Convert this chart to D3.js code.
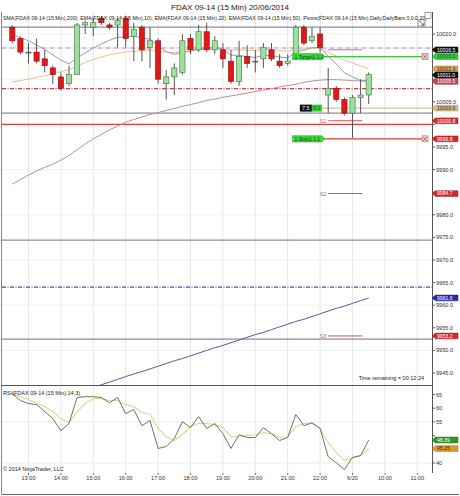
<!DOCTYPE html>
<html>
<head>
<meta charset="utf-8">
<script src="https://cdn.jsdelivr.net/npm/d3@7"></script>
<style>
  body { margin: 0; background: #fff; }
  text { font-family: "Liberation Sans", Arial, sans-serif; }
</style>
</head>
<body>
<svg id="chart" width="460" height="496"></svg>
<script>
// ---- 15-minute bars, FDAX 09-14 (bar index 0 = 12:30 on 19/06) ----
const opens  = [10021.5,10019,10016,10016,10014.5,10012.5,10010.5,10009,10011,10022,10021.5,10023.5,10022,10022,10023.5,10019.5,10021.5,10017,10018.5,10009,10010.5,10011.5,10019,10016.5,10020.5,10016.5,10016.5,10014,10009.5,10015,10014,10014.5,10016.5,10014,10013.5,10015,10021.5,10018.5,10020,10006.5,10008,10005.5,10002.5,10006,10006.5];
const highs  = [10022,10019.5,10018,10019,10016.5,10013,10011.5,10013,10022.5,10023,10023.5,10024,10022.5,10023.5,10024,10022.5,10022,10021.5,10019,10012,10013.5,10020,10020,10022,10022.5,10019.5,10018,10016.5,10018.5,10017.5,10016.5,10018,10018,10015.5,10015.5,10022,10022,10021.5,10021.5,10012.5,10008.5,10006,10006.5,10010,10011.5];
const lows   = [10018,10015.5,10013.5,10013.5,10011.5,10009,10007.5,10008.5,10011,10020,10019.5,10022,10021,10017,10017,10014,10014,10012.5,10009,10005.5,10006.5,10011,10015.5,10016,10016,10015.5,10012.5,10009,10008.5,10012.5,10011.5,10012.5,10014,10012.5,10013,10014.5,10017.5,10018,10016,10002.5,10005,10002,9997,10002.5,10004.5];
const closes = [10018.5,10016,10016,10014,10013,10011,10008,10011,10022,10022.5,10022.5,10022.5,10021.5,10023,10019,10021,10016.5,10018.5,10010,10010.5,10012.5,10018.5,10016.5,10020.5,10016.5,10018.5,10014.5,10009.5,10015,10013.5,10014,10017,10014.5,10013,10014,10021.5,10018,10019.5,10017,10008,10005.5,10002.5,10006,10006.5,10011];

// ---- moving averages ----
const sma200 = [9936.1,9936.6,9937.2,9937.8,9938.4,9939.0,9939.5,9940.1,9940.7,9941.3,9941.9,9942.4,9943.0,9943.6,9944.2,9944.8,9945.3,9945.9,9946.5,9947.1,9947.7,9948.2,9948.8,9949.4,9950.0,9950.6,9951.1,9951.7,9952.3,9952.9,9953.5,9954.0,9954.6,9955.2,9955.8,9956.4,9956.9,9957.5,9958.1,9958.7,9959.3,9959.8,9960.4,9961.0,9961.6];
const ema10  = [10020.0,10019.2,10018.5,10017.6,10016.6,10015.4,10014.2,10013.4,10014.7,10015.8,10016.9,10017.8,10018.6,10019.3,10019.3,10019.6,10019.0,10018.9,10017.3,10016.1,10015.5,10016.0,10016.1,10016.9,10016.8,10017.1,10016.6,10015.3,10015.3,10015.0,10014.8,10015.3,10015.2,10014.9,10014.7,10016.0,10016.4,10017.0,10017.0,10015.1,10013.4,10011.4,10010.5,10009.7,10009.8];
const ema20  = [10009.4,10009.7,10010.0,10010.4,10010.7,10011.2,10011.7,10012.1,10012.9,10013.7,10014.4,10014.9,10015.4,10015.7,10016.0,10016.2,10016.3,10016.5,10016.2,10016.0,10015.9,10016.2,10016.3,10016.5,10016.6,10016.7,10016.6,10016.4,10016.5,10016.4,10016.4,10016.5,10016.5,10016.4,10016.2,10016.6,10016.7,10016.8,10016.8,10016.0,10015.1,10014.2,10013.6,10012.9,10012.3];
const ema50  = [9986.8,9987.8,9988.8,9989.7,9990.5,9991.2,9992.1,9993.1,9994.4,9995.7,9996.8,9997.8,9998.8,9999.6,10000.5,10001.1,10001.6,10002.2,10002.6,10003.1,10003.5,10004.0,10004.4,10004.8,10005.3,10005.6,10006.0,10006.3,10006.6,10006.9,10007.3,10007.6,10007.9,10008.3,10008.6,10008.9,10009.3,10009.6,10009.8,10009.9,10009.9,10009.8,10009.7,10009.6,10009.5];

// ---- RSI(14,3) ----
const rsi    = [65.3,62.8,61.7,61.3,58.8,56.2,51.8,54.4,63.9,64.2,64.2,63.9,62.0,63.9,58.0,59.5,53.6,55.5,45.3,46.0,48.9,55.1,52.9,56.9,52.6,54.4,50.7,45.3,50.4,49.3,49.3,52.9,50.7,48.2,49.3,57.7,53.6,54.7,52.6,42.3,40.1,37.6,42.0,42.7,48.39];
const rsiAvg = [65.3,64.2,63.1,62.0,60.6,58.8,56.2,54.7,58.8,61.7,63.5,63.5,62.8,62.8,61.3,60.6,58.4,57.7,52.6,49.6,48.2,50.4,53.3,54.4,54.4,54.0,52.9,49.6,49.6,50.0,50.4,51.1,50.7,49.3,49.6,53.3,54.4,54.4,52.6,47.4,43.8,40.9,42.0,42.7,45.25];

// ---- daily pivots ----
const pivotNames  = ["PP", "S1", "S2", "S3"];
const pivotValues = [10016.5, 10000.8, 9984.7, 9953.2];

// ---- horizontal levels drawn across the chart ----
const levelValues = [10021.5, 10016.9, 10007.9, 10002.5, 10000.0, 9974.4, 9964.0, 9952.5];
const levelKinds  = ["greySolid", "pinkDash", "redDash", "greySolid", "redSolid", "greySolid", "blueDash", "greySolid"];

// ---- working orders and open position ----
const orderValues = [10015.0, 9996.8];
const orderKinds  = ["target", "stop"];
const positionPrice = 10003.6;
const positionQty = "7.5";
const positionPnl = "5.2";

// ---- axes ----
const priceTicks = [9945, 9950, 9955, 9960, 9965, 9970, 9975, 9980, 9985, 9990, 9995, 10000, 10005, 10010, 10015, 10020];
const rsiTicks = [40, 45, 50, 55, 60, 65];
const timeTickIndex = [2, 6, 10, 14, 18, 22, 26, 30, 34, 38, 42, 46, 50];
const timeTickLabels = ["13:00", "14:00", "15:00", "16:00", "17:00", "18:00", "19:00", "20:00", "21:00", "22:00", "6/20", "10:00", "11:00"];

const svg = d3.select("#chart");
const fmt1 = d3.format(".1f");
const fmt2 = d3.format(".2f");

// panel geometry
const left = 2, right = 432;
const priceTop = 12, priceBottom = 385;
const rsiTop = 385, rsiBottom = 473;

const x = d3.scaleLinear().domain([0, 50]).range([12.3, 417.3]);
const y = d3.scaleLinear().domain([9945, 10020]).range([373, 34]);
const yr = d3.scaleLinear().domain([40, 65]).range([463, 394.5]);

const defs = svg.append("defs");
defs.append("clipPath").attr("id", "clipPrice")
  .append("rect").attr("x", left).attr("y", priceTop).attr("width", right - left).attr("height", priceBottom - priceTop);
defs.append("clipPath").attr("id", "clipRsi")
  .append("rect").attr("x", left).attr("y", rsiTop).attr("width", right - left).attr("height", rsiBottom - rsiTop);

// title
svg.append("text").attr("x", 230).attr("y", 10).attr("text-anchor", "middle")
  .attr("font-size", 8).attr("fill", "#222").text("FDAX 09-14 (15 Min)  20/06/2014");

// vertical grid
const grid = svg.append("g");
grid.selectAll("line.v").data(timeTickIndex).join("line")
  .attr("x1", d => x(d)).attr("x2", d => x(d))
  .attr("y1", priceTop).attr("y2", rsiBottom)
  .attr("stroke", "#e6e6e6").attr("stroke-width", 1);
// horizontal grid (price)
grid.selectAll("line.h").data(priceTicks.filter(d => d % 10 === 0)).join("line")
  .attr("x1", left).attr("x2", right)
  .attr("y1", d => y(d)).attr("y2", d => y(d))
  .attr("stroke", "#efefef");

const pricePanel = svg.append("g").attr("clip-path", "url(#clipPrice)");

// horizontal levels
const levelStyle = {
  greySolid: { stroke: "#8c8ca0", dash: null, w: 1.2 },
  pinkDash:  { stroke: "#b07aa8", dash: "4,1.5,1,1.5", w: 1.2 },
  redDash:   { stroke: "#d04040", dash: "4,1.5,1,1.5", w: 1.2 },
  redSolid:  { stroke: "#e03a3a", dash: null, w: 1.2 },
  blueDash:  { stroke: "#4a4aa8", dash: "4,1.5,1,1.5", w: 1.2 }
};
pricePanel.selectAll("line.level").data(levelValues).join("line")
  .attr("x1", left).attr("x2", right)
  .attr("y1", d => y(d)).attr("y2", d => y(d))
  .attr("stroke", (d, i) => levelStyle[levelKinds[i]].stroke)
  .attr("stroke-width", (d, i) => levelStyle[levelKinds[i]].w)
  .attr("stroke-dasharray", (d, i) => levelStyle[levelKinds[i]].dash);

// position line
pricePanel.append("line").attr("x1", x(35.5)).attr("x2", right)
  .attr("y1", y(positionPrice)).attr("y2", y(positionPrice))
  .attr("stroke", "#c8b48c").attr("stroke-width", 1);

// moving averages
const lineGen = arr => d3.line().x((d, i) => x(i)).y(d => y(d))(arr);
pricePanel.append("path").attr("d", lineGen(sma200)).attr("fill", "none").attr("stroke", "#5858a8").attr("stroke-width", 1);
pricePanel.append("path").attr("d", lineGen(ema50)).attr("fill", "none").attr("stroke", "#c08a98").attr("stroke-width", 1);
pricePanel.append("path").attr("d", lineGen(ema20)).attr("fill", "none").attr("stroke", "#e2c48e").attr("stroke-width", 1);
pricePanel.append("path").attr("d", lineGen(ema10)).attr("fill", "none").attr("stroke", "#9a9ab4").attr("stroke-width", 1);

// pivot stubs
const pivotG = pricePanel.append("g");
pivotG.selectAll("line").data(pivotValues).join("line")
  .attr("x1", x(39)).attr("x2", x(43.2))
  .attr("y1", d => y(d)).attr("y2", d => y(d))
  .attr("stroke", (d, i) => i === 0 ? "#8a8a9a" : "#d05050").attr("stroke-width", 1);
pivotG.selectAll("text").data(pivotValues).join("text")
  .attr("x", x(38.9) - 1).attr("y", d => y(d) + 2)
  .attr("text-anchor", "end").attr("font-size", 5.5).attr("fill", "#a07070")
  .text((d, i) => i === 0 ? "" : pivotNames[i]);

// candles
const candles = pricePanel.append("g");
const bars = d3.range(opens.length);
candles.selectAll("line.wick").data(bars).join("line")
  .attr("x1", i => x(i)).attr("x2", i => x(i))
  .attr("y1", i => y(highs[i])).attr("y2", i => y(lows[i]))
  .attr("stroke", "#555").attr("stroke-width", 1);
candles.selectAll("rect.body").data(bars).join("rect")
  .attr("x", i => x(i) - 2.6).attr("width", 5.2)
  .attr("y", i => y(Math.max(opens[i], closes[i])))
  .attr("height", i => Math.max(1, Math.abs(y(opens[i]) - y(closes[i]))))
  .attr("fill", i => closes[i] > opens[i] ? "#9be39b" : closes[i] < opens[i] ? "#e01818" : "#666")
  .attr("stroke", i => closes[i] >= opens[i] ? "#4a6a4a" : "#8a1010")
  .attr("stroke-width", 0.6);

// order lines
orderValues.forEach((v, k) => {
  const yy = y(v);
  pricePanel.append("line").attr("x1", x(38.2)).attr("x2", 425)
    .attr("y1", yy).attr("y2", yy)
    .attr("stroke", orderKinds[k] === "target" ? "#33cc33" : "#e03a3a").attr("stroke-width", 1.2);
  const g = pricePanel.append("g");
  g.append("path")
    .attr("d", `M${x(34.6)},${yy - 3.2}H${x(38.2)}L${x(38.2) + 3},${yy}L${x(38.2)},${yy + 3.2}H${x(34.6)}Z`)
    .attr("fill", "#33dd33").attr("stroke", "#229922").attr("stroke-width", 0.5);
  g.append("text").attr("x", x(34.6) + 2).attr("y", yy + 2).attr("font-size", 5).attr("fill", "#114411")
    .text(orderKinds[k] === "target" ? "1  Target1  1.1" : "1  Stop1  1.1");
  g.append("rect").attr("x", 422).attr("y", yy - 3).attr("width", 6).attr("height", 6)
    .attr("fill", "#f4d8d8").attr("stroke", "#a06060").attr("stroke-width", 0.6);
  g.append("path").attr("d", `M423,${yy - 2}L427,${yy + 2}M427,${yy - 2}L423,${yy + 2}`)
    .attr("stroke", "#a03030").attr("stroke-width", 0.7);
});

// position box
{
  const yy = y(positionPrice);
  const bx = x(35.5);
  pricePanel.append("rect").attr("x", bx).attr("y", yy - 3.5).attr("width", 12).attr("height", 7).attr("fill", "#111");
  pricePanel.append("text").attr("x", bx + 6).attr("y", yy + 2).attr("text-anchor", "middle")
    .attr("font-size", 5.5).attr("fill", "#fff").text(positionQty);
  pricePanel.append("rect").attr("x", bx + 12).attr("y", yy - 3.5).attr("width", 10).attr("height", 7).attr("fill", "#33cc33");
  pricePanel.append("text").attr("x", bx + 17).attr("y", yy + 2).attr("text-anchor", "middle")
    .attr("font-size", 5.5).attr("fill", "#063").text(positionPnl);
}

// legend of indicators
svg.append("text").attr("x", 3).attr("y", 20).attr("font-size", 5.2).attr("fill", "#222")
  .attr("textLength", 424).attr("lengthAdjust", "spacingAndGlyphs")
  .text("SMA(FDAX 09-14 (15 Min),200), EMA(FDAX 09-14 (15 Min),10), EMA(FDAX 09-14 (15 Min),20), EMA(FDAX 09-14 (15 Min),50), Pivots(FDAX 09-14 (15 Min),Daily,DailyBars,0,0,0,20)");

svg.append("text").attr("x", 424).attr("y", 380).attr("text-anchor", "end")
  .attr("font-size", 5.5).attr("fill", "#222").text("Time remaining = 00:12:24");

// RSI panel
const rsiPanel = svg.append("g").attr("clip-path", "url(#clipRsi)");
const rsiLine = arr => d3.line().x((d, i) => x(i)).y(d => yr(d))(arr);
rsiPanel.selectAll("line.rg").data([55, 40]).join("line")
  .attr("x1", left).attr("x2", right).attr("y1", d => yr(d)).attr("y2", d => yr(d)).attr("stroke", "#ececec");
rsiPanel.append("path").attr("d", rsiLine(rsiAvg)).attr("fill", "none").attr("stroke", "#e3d48e").attr("stroke-width", 1.1);
rsiPanel.append("path").attr("d", rsiLine(rsi)).attr("fill", "none").attr("stroke", "#5f7a62").attr("stroke-width", 1);
svg.append("text").attr("x", 3).attr("y", 395).attr("font-size", 5.5).attr("fill", "#222")
  .text("RSI(FDAX 09-14 (15 Min),14,3)");
svg.append("text").attr("x", 3).attr("y", 471).attr("font-size", 5.5).attr("fill", "#222")
  .text("© 2014 NinjaTrader, LLC");

// frame and separators
svg.append("line").attr("x1", 1.5).attr("x2", 1.5).attr("y1", priceTop).attr("y2", 494).attr("stroke", "#888");
svg.append("line").attr("x1", right + 0.5).attr("x2", right + 0.5).attr("y1", priceTop).attr("y2", rsiBottom).attr("stroke", "#555");
svg.append("line").attr("x1", 1.5).attr("x2", right).attr("y1", priceBottom + 0.5).attr("y2", priceBottom + 0.5).attr("stroke", "#555").attr("stroke-width", 1.2);
svg.append("line").attr("x1", 1.5).attr("x2", 459).attr("y1", 494.5).attr("y2", 494.5).attr("stroke", "#666");

// value markers on the right axis, stacked so that they never cover each other
const last = closes.length - 1;
const priceMarkers = [
  { v: pivotValues[0], txt: fmt1(pivotValues[0]), fill: "#111", color: "#fff" },
  { v: orderValues[0], txt: fmt1(orderValues[0]), fill: "#33cc33", color: "#063" },
  { v: ema20[last], txt: fmt1(ema20[last]), fill: "#d9a35a", color: "#3a2a10" },
  { v: closes[last], txt: fmt1(closes[last]), fill: "#111", color: "#fff" },
  { v: ema50[last], txt: fmt1(ema50[last]), fill: "#c8405a", color: "#fff" },
  { v: positionPrice, txt: fmt1(positionPrice), fill: "#d2bd93", color: "#3a2a10" },
  { v: pivotValues[1], txt: fmt1(pivotValues[1]), fill: "#d22a2a", color: "#fff" },
  { v: orderValues[1], txt: fmt1(orderValues[1]), fill: "#d22a2a", color: "#fff" },
  { v: pivotValues[2], txt: fmt1(pivotValues[2]), fill: "#d22a2a", color: "#fff" },
  { v: sma200[last], txt: fmt1(sma200[last]), fill: "#2a2ab0", color: "#fff" },
  { v: pivotValues[3], txt: fmt1(pivotValues[3]), fill: "#d22a2a", color: "#fff" }
].map(m => ({ ...m, yy: y(m.v) }));
const rsiMarkers = [
  { v: rsi[last], txt: fmt2(rsi[last]), fill: "#2c9a2c", color: "#fff" },
  { v: rsiAvg[last], txt: fmt2(rsiAvg[last]), fill: "#dd9a2a", color: "#3a2a10" }
].map(m => ({ ...m, yy: yr(m.v) }));

const markerH = 6.2;
function stack(list) {
  list.sort((a, b) => a.yy - b.yy);
  for (let i = 1; i < list.length; i++) {
    if (list[i].yy - list[i - 1].yy < markerH) list[i].yy = list[i - 1].yy + markerH;
  }
  return list;
}
stack(priceMarkers);
stack(rsiMarkers);
const allMarkers = priceMarkers.concat(rsiMarkers);
const covered = yy => allMarkers.some(m => Math.abs(m.yy - yy) < 6);

// price axis
const pAxis = svg.append("g");
pAxis.selectAll("line").data(priceTicks).join("line")
  .attr("x1", right).attr("x2", right + 3).attr("y1", d => y(d)).attr("y2", d => y(d)).attr("stroke", "#555");
pAxis.selectAll("text").data(priceTicks.filter(d => !covered(y(d)))).join("text")
  .attr("x", right + 4).attr("y", d => y(d) + 2).attr("font-size", 5.6).attr("fill", "#333")
  .text(d => fmt1(d));

// RSI axis
const rAxis = svg.append("g");
rAxis.selectAll("line").data(rsiTicks).join("line")
  .attr("x1", right).attr("x2", right + 3).attr("y1", d => yr(d)).attr("y2", d => yr(d)).attr("stroke", "#555");
rAxis.selectAll("text").data(rsiTicks.filter(d => !covered(yr(d)))).join("text")
  .attr("x", right + 4).attr("y", d => yr(d) + 2).attr("font-size", 5.6).attr("fill", "#333")
  .text(d => d);

// time axis
const tAxis = svg.append("g");
tAxis.selectAll("line").data(timeTickIndex).join("line")
  .attr("x1", d => x(d)).attr("x2", d => x(d)).attr("y1", rsiBottom).attr("y2", rsiBottom + 2).attr("stroke", "#777");
tAxis.selectAll("text").data(timeTickIndex).join("text")
  .attr("x", d => x(d)).attr("y", 480).attr("text-anchor", "middle").attr("font-size", 5.6).attr("fill", "#333")
  .text((d, i) => timeTickLabels[i]);

const mG = svg.append("g");
allMarkers.forEach(m => {
  const h = markerH / 2 - 0.2;
  mG.append("path").attr("d", `M${right},${m.yy}L${right + 3.5},${m.yy - h}H458V${m.yy + h}H${right + 3.5}Z`)
    .attr("fill", m.fill).attr("stroke", d3.color(m.fill).darker(0.8)).attr("stroke-width", 0.5);
  mG.append("text").attr("x", right + 5).attr("y", m.yy + 1.8).attr("font-size", 5.1).attr("fill", m.color).text(m.txt);
});

// chart-trader icons in the corner
svg.append("rect").attr("x", 425).attr("y", 12.5).attr("width", 6).attr("height", 6).attr("fill", "#fff").attr("stroke", "#666").attr("stroke-width", 0.6);
svg.append("rect").attr("x", 418).attr("y", 20).attr("width", 7).attr("height", 6).attr("fill", "#fff").attr("stroke", "#666").attr("stroke-width", 0.6);
svg.append("path").attr("d", "M419,21L424,25M424,22V25H421").attr("fill", "none").attr("stroke", "#444").attr("stroke-width", 0.7);
</script>
</body>
</html>
